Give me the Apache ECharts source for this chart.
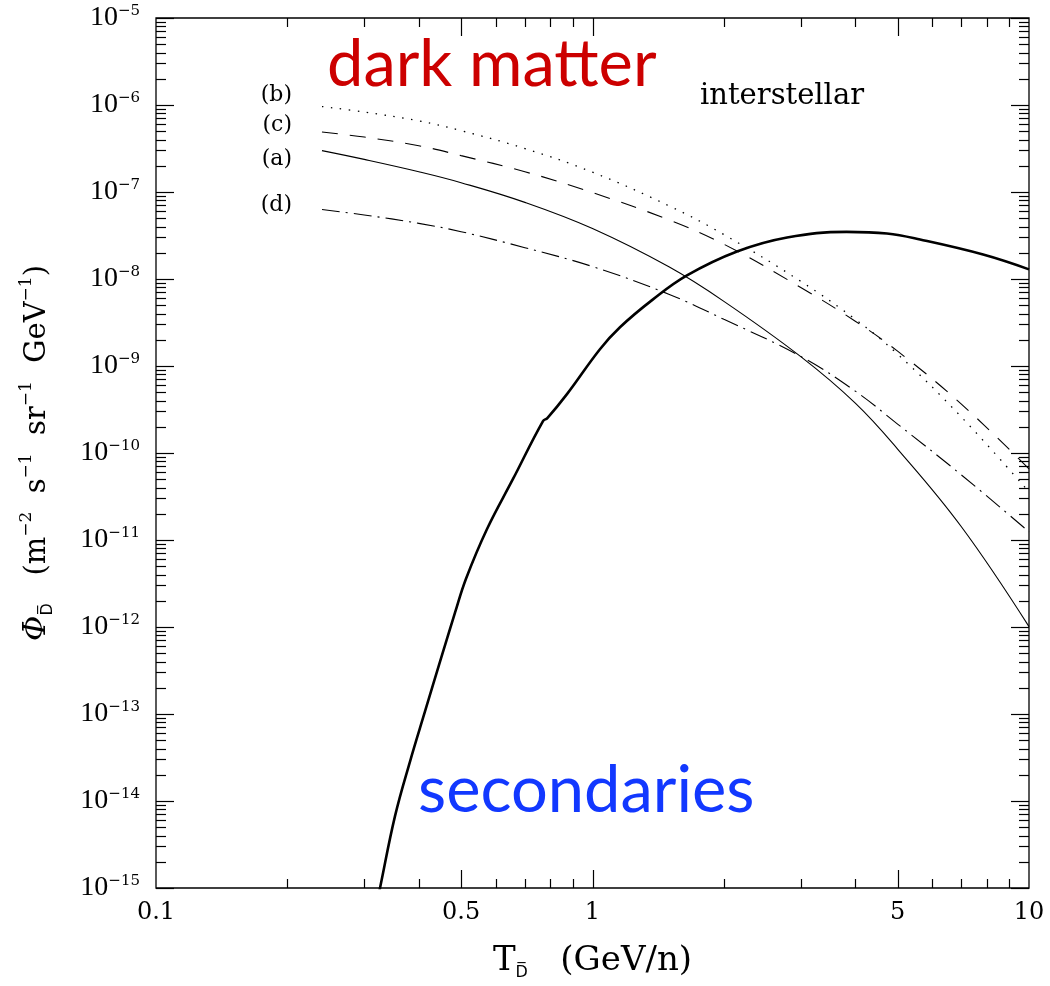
<!DOCTYPE html>
<html><head><meta charset="utf-8">
<script src="https://cdn.jsdelivr.net/npm/echarts@6/dist/echarts.min.js"></script>
<style>html,body{margin:0;padding:0;background:#fff}#c{width:1050px;height:986px}</style>
</head><body><div id="c"></div>
<script>
// ---- data ----
const energyDM = [0.24, 0.3, 0.4, 0.5, 0.7, 1, 1.5, 2, 3, 4, 5, 7, 10];
const fluxA = [2.99e-7, 2.37e-7, 1.71e-7, 1.28e-7, 7.6e-8, 3.8e-8, 1.37e-8, 5.53e-9, 1.28e-9, 3.74e-10, 1.11e-10, 1.42e-11, 1.01e-12];
const fluxB = [9.6e-7, 8.3e-7, 6.57e-7, 5.07e-7, 3.16e-7, 1.69e-7, 6.9e-8, 3.24e-8, 9.4e-9, 3.44e-9, 1.37e-9, 2.59e-10, 3.57e-11];
const fluxC = [4.89e-7, 4.28e-7, 3.4e-7, 2.62e-7, 1.71e-7, 9.84e-8, 4.76e-8, 2.51e-8, 8.0e-9, 3.27e-9, 1.48e-9, 3.65e-10, 6.56e-11];
const fluxD = [6.28e-8, 5.45e-8, 4.36e-8, 3.5e-8, 2.29e-8, 1.39e-8, 6.65e-9, 3.44e-9, 1.29e-9, 5.14e-10, 2.15e-10, 5.6e-11, 1.24e-11];
const energySec = [0.319, 0.326, 0.3528, 0.382, 0.4133, 0.4497, 0.4842, 0.5131, 0.5733, 0.6575, 0.7702, 0.788, 0.874, 1.04, 1.156, 1.376, 1.646, 2.143, 2.791, 3.82, 4.727, 5.63, 7.85, 10];
const fluxSec = [5.9e-16, 1e-15, 6.7e-15, 2.86e-14, 1.07e-13, 4.35e-13, 1.46e-12, 3.59e-12, 1.34e-11, 5.03e-11, 2.33e-10, 2.52e-10, 4.75e-10, 1.56e-9, 2.79e-9, 5.83e-9, 1.1e-8, 2.07e-8, 3.0e-8, 3.48e-8, 3.33e-8, 2.84e-8, 1.91e-8, 1.29e-8];

// ---- axes / ticks ----
const X_MIN = 0.1, X_MAX = 10;
const Y_MIN = 1e-15, Y_MAX = 1e-5;
const xMajorTicks = [0.5, 1, 5];
const xMinorTicks = [0.2, 0.3, 0.4, 0.6, 0.7, 0.8, 0.9, 2, 3, 4, 6, 7, 8, 9];
const xTickValues = [0.1, 0.5, 1, 5, 10];
const xTickLabels = ['0.1', '0.5', '1', '5', '10'];
const yDecadeExponents = [-15, -14, -13, -12, -11, -10, -9, -8, -7, -6, -5];
const yMinorMultipliers = [2, 3, 4, 5, 6, 7, 8, 9];

const yMajorTicks = yDecadeExponents.map(e => Math.pow(10, e));
const yMinorTicks = [];
yDecadeExponents.slice(0, -1).forEach(e => yMinorMultipliers.forEach(m => yMinorTicks.push(m * Math.pow(10, e))));

const pair = (xs, ys) => xs.map((x, i) => [x, ys[i]]);
const TICK_STYLE = {stroke: '#000', lineWidth: 1.2};

function xTickSeries(vals, len) {
  return {
    type: 'custom', silent: true, clip: false, z: 5,
    data: vals.map(v => [v, Y_MIN]),
    renderItem: function (params, api) {
      const cs = params.coordSys;
      const x = Math.round(api.coord([api.value(0), Y_MIN])[0]) + 0.5;
      const yb = cs.y + cs.height, yt = cs.y;
      return {type: 'group', children: [
        {type: 'line', shape: {x1: x, y1: yb, x2: x, y2: yb - len}, style: TICK_STYLE},
        {type: 'line', shape: {x1: x, y1: yt, x2: x, y2: yt + len}, style: TICK_STYLE}
      ]};
    }
  };
}
function yTickSeries(vals, len) {
  return {
    type: 'custom', silent: true, clip: false, z: 5,
    data: vals.map(v => [X_MIN, v]),
    renderItem: function (params, api) {
      const cs = params.coordSys;
      const y = Math.round(api.coord([X_MIN, api.value(1)])[1]) + 0.5;
      const xl = cs.x, xr = cs.x + cs.width;
      return {type: 'group', children: [
        {type: 'line', shape: {x1: xl, y1: y, x2: xl + len, y2: y}, style: TICK_STYLE},
        {type: 'line', shape: {x1: xr, y1: y, x2: xr - len, y2: y}, style: TICK_STYLE}
      ]};
    }
  };
}
const xLabelSeries = {
  type: 'custom', silent: true, clip: false, z: 5,
  data: xTickValues.map(v => [v, Y_MIN]),
  renderItem: function (params, api) {
    const cs = params.coordSys;
    const x = api.coord([api.value(0), Y_MIN])[0];
    return {type: 'text', x: x, y: cs.y + cs.height + 13,
      style: {text: xTickLabels[params.dataIndex], font: '24px "DejaVu Serif"', fill: '#000',
        align: 'center', verticalAlign: 'top', textAlign: 'center', textVerticalAlign: 'top'}};
  }
};

function curve(name, ys, dash, width) {
  return {
    name: name, type: 'line', data: pair(energyDM, ys), showSymbol: false, smooth: 0.4,
    lineStyle: {color: '#000', width: width, type: dash}, z: 3
  };
}

const chart = echarts.init(document.getElementById('c'), null, {renderer: 'canvas'});
chart.setOption({
  animation: false,
  backgroundColor: '#fff',
  grid: {left: 156, right: 21, top: 18, bottom: 96, show: true, borderColor: '#000', borderWidth: 1.3, backgroundColor: 'transparent'},
  xAxis: {
    type: 'log', logBase: 10, min: X_MIN, max: X_MAX,
    axisLine: {show: false}, axisTick: {show: false}, axisLabel: {show: false}, splitLine: {show: false},
    name: '{t|T}{sub|D\u0305}{t|   (GeV/n)}', nameLocation: 'middle', nameGap: 53,
    nameTextStyle: {rich: {
      t: {fontFamily: 'DejaVu Serif', fontSize: 34, lineHeight: 40, color: '#000'},
      sub: {fontFamily: 'DejaVu Sans', fontSize: 16, lineHeight: 14, verticalAlign: 'bottom', color: '#000'}
    }}
  },
  yAxis: {
    type: 'log', logBase: 10, min: Y_MIN, max: Y_MAX, splitNumber: 10,
    axisLine: {show: false}, axisTick: {show: false}, splitLine: {show: false},
    axisLabel: {
      margin: 16, align: 'right',
      formatter: function (v) { const e = Math.round(Math.log10(v)); return '{b|10}{s|\u2212' + (-e) + '}'; },
      rich: {
        b: {fontFamily: 'Liberation Serif', fontSize: 28, lineHeight: 28, color: '#000'},
        s: {fontFamily: 'DejaVu Serif', fontSize: 15, lineHeight: 19, verticalAlign: 'top', color: '#000'}
      }
    },
    name: '{phi|\u03A6}{sub|D\u0305}{t|   (m}{sup|\u22122}{t|  s}{sup|\u22121}{t|  sr}{sup|\u22121}{t|  GeV}{sup|\u22121}{t|)}',
    nameLocation: 'middle', nameRotate: 90, nameGap: 100,
    nameTextStyle: {rich: {
      phi: {fontFamily: 'DejaVu Serif', fontStyle: 'italic', fontSize: 31, lineHeight: 38, color: '#000'},
      t: {fontFamily: 'DejaVu Serif', fontSize: 29, lineHeight: 38, color: '#000'},
      sub: {fontFamily: 'DejaVu Sans', fontSize: 16, lineHeight: 14, verticalAlign: 'bottom', color: '#000'},
      sup: {fontFamily: 'DejaVu Serif', fontSize: 17, lineHeight: 22, verticalAlign: 'top', color: '#000'}
    }}
  },
  series: [
    curve('(a)', fluxA, 'solid', 1.1),
    curve('(b)', fluxB, [1.5, 7.5], 1.3),
    curve('(c)', fluxC, [16, 12], 1.1),
    curve('(d)', fluxD, [18, 6, 2, 6], 1.1),
    {name: 'secondaries', type: 'line', data: pair(energySec, fluxSec), showSymbol: false, smooth: 0.4,
      lineStyle: {color: '#000', width: 2.6}, z: 4},
    xTickSeries(xMajorTicks, 18),
    xTickSeries(xMinorTicks, 9),
    yTickSeries(yMajorTicks, 18),
    yTickSeries(yMinorTicks, 10),
    xLabelSeries
  ],
  graphic: [
    {type: 'text', left: 327, top: 33, style: {text: 'dark matter', font: '65px Lato', fill: '#cc0000'}},
    {type: 'text', left: 418, top: 759, style: {text: 'secondaries', font: '65px Lato', fill: '#1238ff'}},
    {type: 'text', left: 700, top: 82, style: {text: 'interstellar', font: '29px "DejaVu Serif"', fill: '#000'}},
    {type: 'text', right: 1050 - 292, top: 84, style: {text: '(b)', font: '22px "DejaVu Serif"', fill: '#000'}},
    {type: 'text', right: 1050 - 292, top: 114, style: {text: '(c)', font: '22px "DejaVu Serif"', fill: '#000'}},
    {type: 'text', right: 1050 - 292, top: 148, style: {text: '(a)', font: '22px "DejaVu Serif"', fill: '#000'}},
    {type: 'text', right: 1050 - 292, top: 194, style: {text: '(d)', font: '22px "DejaVu Serif"', fill: '#000'}}
  ]
});
</script>
</body></html>
